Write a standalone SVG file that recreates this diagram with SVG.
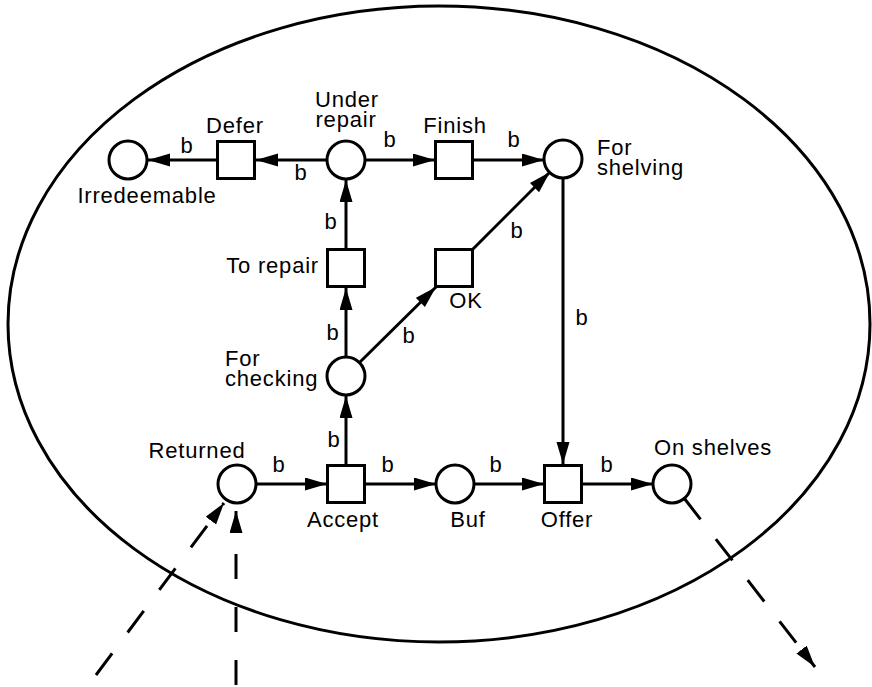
<svg xmlns="http://www.w3.org/2000/svg" width="872" height="687" viewBox="0 0 872 687">
<defs>
<marker id="ah" markerUnits="userSpaceOnUse" markerWidth="24" markerHeight="14" refX="22" refY="6.5" orient="auto">
<path d="M0,0 L22,6.5 L0,13 z" fill="#000"/>
</marker>
<style>
.pl{fill:#fff;stroke:#000;stroke-width:3}
.tr{fill:#fff;stroke:#000;stroke-width:3}
.ar{fill:none;stroke:#000;stroke-width:3;marker-end:url(#ah)}
.ds{fill:none;stroke:#000;stroke-width:3;marker-end:url(#ah)}
text{font-family:"Liberation Sans",Arial,sans-serif;font-size:22px;letter-spacing:0.8px;fill:#000}
.m{text-anchor:middle}
.e{text-anchor:end}
</style>
</defs>
<rect width="872" height="687" fill="#fff"/>
<ellipse id="boundary" cx="439" cy="324" rx="431" ry="318" fill="none" stroke="#000" stroke-width="3"/>

<g id="connectors">
<path class="ar" d="M327,160 L256,160"/>
<path class="ar" d="M218,160 L148,160"/>
<path class="ar" d="M365,160 L435,160"/>
<path class="ar" d="M473,160 L544,160"/>
<path class="ar" d="M346,249 L346,180"/>
<path class="ar" d="M346,357 L346,288"/>
<path class="ar" d="M346,465 L346,396"/>
<path class="ar" d="M359,363 L436,287"/>
<path class="ar" d="M473,249 L550,172"/>
<path class="ar" d="M563,178 L563,464"/>
<path class="ar" d="M256,484 L327,484"/>
<path class="ar" d="M365,484 L436,484"/>
<path class="ar" d="M474,484 L544,484"/>
<path class="ar" d="M582,484 L653,484"/>
<path class="ds" d="M96,675 L224,503" stroke-dasharray="27 26"/>
<path class="ds" d="M236,685 L236,511" stroke-dasharray="25 28"/>
<path class="ds" d="M684,498 L815,667" stroke-dasharray="27 25"/>
<text class="m" x="187" y="153">b</text>
<text class="m" x="301" y="180">b</text>
<text class="m" x="390" y="147">b</text>
<text class="m" x="514" y="147">b</text>
<text class="m" x="331" y="229">b</text>
<text class="m" x="517" y="238">b</text>
<text class="m" x="582" y="325">b</text>
<text class="m" x="333" y="340">b</text>
<text class="m" x="409" y="343">b</text>
<text class="m" x="334" y="447">b</text>
<text class="m" x="279" y="472">b</text>
<text class="m" x="388" y="472">b</text>
<text class="m" x="496" y="472">b</text>
<text class="m" x="607" y="472">b</text>
</g>

<g id="irredeemable"><circle class="pl" cx="128" cy="160" r="19"/><text class="m" x="147" y="203">Irredeemable</text></g>
<g id="defer"><rect class="tr" x="217.5" y="141.5" width="37" height="37"/><text class="m" x="235" y="133">Defer</text></g>
<g id="under-repair"><circle class="pl" cx="346" cy="160" r="19"/><text class="m" x="347" y="107">Under</text><text class="m" x="346" y="127">repair</text></g>
<g id="finish"><rect class="tr" x="435.5" y="141.5" width="37" height="37"/><text class="m" x="455" y="133">Finish</text></g>
<g id="for-shelving"><circle class="pl" cx="563" cy="159" r="19"/><text x="597" y="155">For</text><text x="597" y="175">shelving</text></g>
<g id="to-repair"><rect class="tr" x="327.5" y="249.5" width="37" height="37"/><text class="e" x="319" y="273">To repair</text></g>
<g id="ok"><rect class="tr" x="435.5" y="249.5" width="37" height="37"/><text class="m" x="466" y="308">OK</text></g>
<g id="for-checking"><circle class="pl" cx="346" cy="376" r="19"/><text x="225" y="366">For</text><text x="225" y="386">checking</text></g>
<g id="returned"><circle class="pl" cx="237" cy="484" r="19"/><text class="m" x="197" y="458">Returned</text></g>
<g id="accept"><rect class="tr" x="327.5" y="465.5" width="37" height="37"/><text class="m" x="343" y="527">Accept</text></g>
<g id="buf"><circle class="pl" cx="455" cy="484" r="19"/><text class="m" x="468" y="527">Buf</text></g>
<g id="offer"><rect class="tr" x="544.5" y="465.5" width="37" height="37"/><text class="m" x="567" y="527">Offer</text></g>
<g id="on-shelves"><circle class="pl" cx="672" cy="484" r="19"/><text class="m" x="713" y="455">On shelves</text></g>
</svg>
